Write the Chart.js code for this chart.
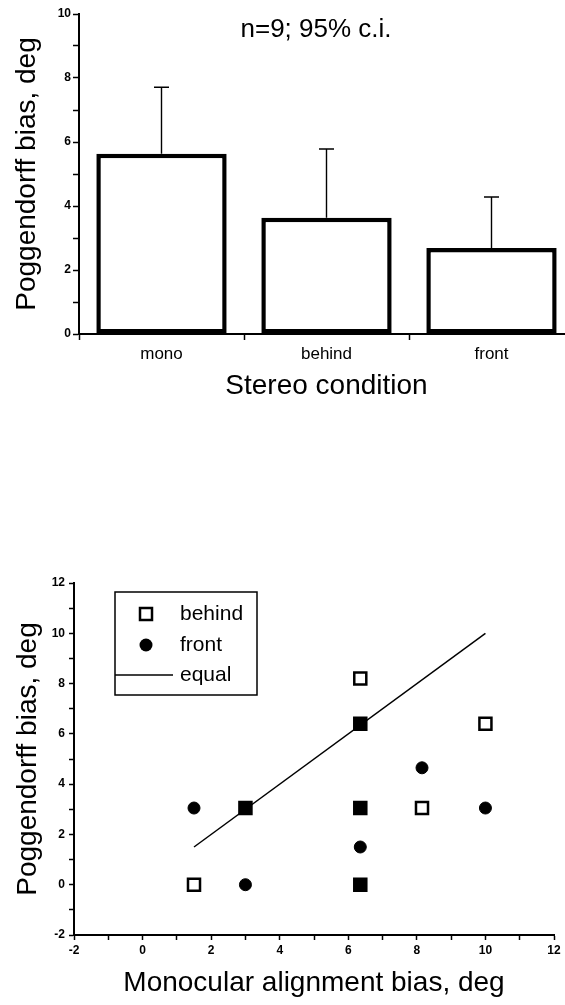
<!DOCTYPE html>
<html>
<head>
<meta charset="utf-8">
<script src="https://cdn.jsdelivr.net/npm/chart.js@4.4.1/dist/chart.umd.min.js"></script>
<style>
  html, body { margin: 0; padding: 0; background: #fff; overflow: hidden; }
  #wrap { position: relative; width: 565px; height: 1005px; overflow: hidden; background: #fff; }
  #barCanvas { position: absolute; left: 0; top: 0; }
  #scatterCanvas { position: absolute; left: 0; top: 540px; }
</style>
</head>
<body>
<div id="wrap">
  <canvas id="barCanvas" width="580" height="410"></canvas>
  <canvas id="scatterCanvas" width="565" height="465"></canvas>
</div>
<script>
// ─── DATA ─────────────────────────────────────────────────────────────────────
// bias per stereo condition, with upper 95% confidence limit
const conditions = ['mono', 'behind', 'front'];
const biasMean = [5.63, 3.63, 2.69];
const ciUpper = [7.71, 5.78, 4.28];
const barTicks = [0, 2, 4, 6, 8, 10];

// Poggendorff bias against monocular alignment bias
const behindX = [1.5, 3.0, 6.35, 6.35, 6.35, 6.35, 8.15, 10.0];
const behindY = [0, 3.05, 8.2, 6.4, 3.05, 0, 3.05, 6.4];
const frontX = [1.5, 3.0, 3.0, 6.35, 6.35, 6.35, 6.35, 8.15, 10.0];
const frontY = [3.05, 0, 3.05, 6.4, 3.05, 1.5, 0, 4.65, 3.05];
const equalX = [1.5, 10];
const equalY = [1.5, 10];
const scatterTicks = [-2, 0, 2, 4, 6, 8, 10, 12];

const toPts = (xs, ys) => xs.map((x, i) => ({ x, y: ys[i] }));
const behindPts = toPts(behindX, behindY);
const frontPts = toPts(frontX, frontY);
const equalPts = toPts(equalX, equalY);

Chart.defaults.font.family = '"Liberation Sans", Arial, Helvetica, sans-serif';
Chart.defaults.color = '#000';

const evenLabel = v => barTicks.concat(scatterTicks).includes(v) ? String(v) : '';

// ─── PLUGINS ──────────────────────────────────────────────────────────────────
// one-sided error bars (bar top up to upper c.i.)
const errorBars = {
    id: 'errorBars',
    afterDatasetsDraw(chart) {
        const { ctx, scales: { x, y } } = chart;
        ctx.save();
        ctx.strokeStyle = '#000';
        ctx.lineWidth = 1.4;
        biasMean.forEach((m, i) => {
            const px = x.getPixelForValue(i);
            const y0 = y.getPixelForValue(m);
            const y1 = y.getPixelForValue(ciUpper[i]);
            ctx.beginPath();
            ctx.moveTo(px, y0);
            ctx.lineTo(px, y1);
            ctx.moveTo(px - 7.5, y1);
            ctx.lineTo(px + 7.5, y1);
            ctx.stroke();
        });
        ctx.restore();
    }
};

const statNote = {
    id: 'statNote',
    afterDraw(chart) {
        const { ctx } = chart;
        ctx.save();
        ctx.fillStyle = '#000';
        ctx.font = '26px "Liberation Sans", Arial, sans-serif';
        ctx.textAlign = 'center';
        ctx.textBaseline = 'middle';
        ctx.fillText('n=9; 95% c.i.', 316, 30);
        ctx.restore();
    }
};

// boxed legend in the upper left of the plot
const boxLegend = {
    id: 'boxLegend',
    afterDraw(chart) {
        const { ctx } = chart;
        const bx = 115, by = 52, bw = 142, bh = 103;
        const rows = [74, 105, 135];
        ctx.save();
        ctx.strokeStyle = '#000';
        ctx.lineWidth = 1.5;
        ctx.strokeRect(bx, by, bw, bh);

        // behind: open square
        ctx.lineWidth = 2.5;
        ctx.strokeRect(146 - 6, rows[0] - 6, 12, 12);
        // front: filled circle
        ctx.beginPath();
        ctx.arc(146, rows[1], 6.5, 0, Math.PI * 2);
        ctx.fillStyle = '#000';
        ctx.fill();
        // equal: line
        ctx.lineWidth = 1.5;
        ctx.beginPath();
        ctx.moveTo(bx, rows[2]);
        ctx.lineTo(173, rows[2]);
        ctx.stroke();

        ctx.font = '21px "Liberation Sans", Arial, sans-serif';
        ctx.textBaseline = 'middle';
        ctx.textAlign = 'left';
        chart.data.datasets.forEach((ds, i) => ctx.fillText(ds.label, 180, rows[i]));
        ctx.restore();
    }
};

// ─── BAR CHART ────────────────────────────────────────────────────────────────
new Chart(document.getElementById('barCanvas'), {
    type: 'bar',
    data: {
        labels: conditions,
        datasets: [{
            data: biasMean,
            backgroundColor: '#fff',
            borderColor: '#000',
            borderWidth: 4.5,
            borderSkipped: false,
            barPercentage: 0.79,
            categoryPercentage: 1
        }]
    },
    options: {
        responsive: false,
        animation: false,
        devicePixelRatio: 1,
        layout: { padding: { top: 14, right: 6, left: 0, bottom: 0 } },
        plugins: { legend: { display: false }, tooltip: { enabled: false } },
        scales: {
            x: {
                grid: { offset: true, drawOnChartArea: false, tickLength: 6, tickWidth: 1.5, tickColor: '#000' },
                border: { color: '#000', width: 2 },
                ticks: { color: '#000', font: { size: 17 }, padding: 4 },
                title: { display: true, text: 'Stereo condition', color: '#000', font: { size: 28 }, padding: { bottom: 7 } },
                afterFit: s => { s.height = 76; }
            },
            y: {
                min: 0,
                max: 10,
                ticks: { stepSize: 1, callback: evenLabel, color: '#000', font: { size: 12, weight: 'bold' }, padding: 2 },
                grid: { drawOnChartArea: false, tickLength: 6, tickWidth: 1.5, tickColor: '#000' },
                border: { color: '#000', width: 2 },
                title: { display: true, text: 'Poggendorff bias, deg', color: '#000', font: { size: 28 }, padding: { top: 10 } },
                afterFit: s => { s.width = 79; }
            }
        }
    },
    plugins: [errorBars, statNote]
});

// ─── SCATTER ──────────────────────────────────────────────────────────────────
// a behind point sharing its spot with a front point is drawn solid
const sharesFront = p => frontPts.some(f => f.x === p.x && f.y === p.y);

new Chart(document.getElementById('scatterCanvas'), {
    type: 'scatter',
    data: {
        datasets: [
            {
                label: 'behind',
                data: behindPts,
                pointStyle: 'rect',
                pointRadius: 8.5,
                pointBorderWidth: 2.5,
                pointBorderColor: '#000',
                pointBackgroundColor: c => (c.raw && sharesFront(c.raw)) ? '#000' : '#fff'
            },
            {
                label: 'front',
                data: frontPts,
                pointStyle: 'circle',
                pointRadius: 6,
                pointBorderWidth: 1,
                pointBorderColor: '#000',
                pointBackgroundColor: '#000'
            },
            {
                label: 'equal',
                type: 'line',
                data: equalPts,
                borderColor: '#000',
                borderWidth: 1.5,
                pointRadius: 0,
                fill: false
            }
        ]
    },
    options: {
        responsive: false,
        animation: false,
        devicePixelRatio: 1,
        layout: { padding: { top: 43, right: 11, left: 0, bottom: 0 } },
        plugins: { legend: { display: false }, tooltip: { enabled: false } },
        scales: {
            x: {
                type: 'linear',
                min: -2,
                max: 12,
                ticks: { stepSize: 1, autoSkip: false, maxRotation: 0, callback: evenLabel, color: '#000', font: { size: 12, weight: 'bold' }, padding: 3 },
                grid: { drawOnChartArea: false, tickLength: 5, tickWidth: 1.5, tickColor: '#000' },
                border: { color: '#000', width: 2 },
                title: { display: true, text: 'Monocular alignment bias, deg', color: '#000', font: { size: 28 }, padding: { bottom: 5 } },
                afterFit: s => { s.height = 70; }
            },
            y: {
                min: -2,
                max: 12,
                ticks: { stepSize: 1, autoSkip: false, callback: evenLabel, color: '#000', font: { size: 12, weight: 'bold' }, padding: 4 },
                grid: { drawOnChartArea: false, tickLength: 5, tickWidth: 1.5, tickColor: '#000' },
                border: { color: '#000', width: 2 },
                title: { display: true, text: 'Poggendorff bias, deg', color: '#000', font: { size: 28 }, padding: { top: 11 } },
                afterFit: s => { s.width = 74; }
            }
        }
    },
    plugins: [boxLegend]
});
</script>
</body>
</html>
